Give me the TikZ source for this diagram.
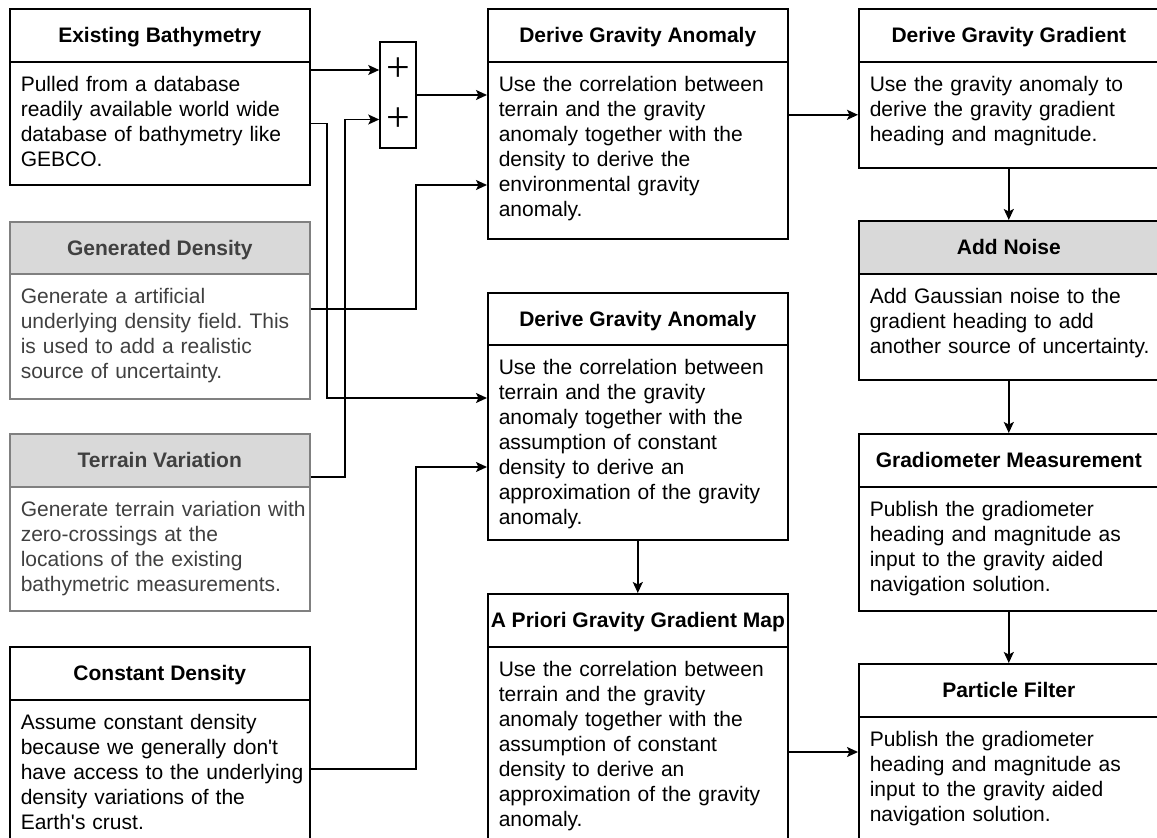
\documentclass[tikz,border=0pt]{standalone}
\usepackage{fontspec}
\setmainfont{Liberation Sans}[Ligatures=TeXOff]
\newfontfamily\plusfont{Liberation Serif}
\usetikzlibrary{arrows.meta}

\definecolor{mutedline}{HTML}{808080}
\definecolor{mutedtext}{HTML}{404040}
\definecolor{headfill}{HTML}{D9D9D9}

\newcommand{\bodyfont}{\fontsize{21}{25}\selectfont}
\newcommand{\headfont}{\bfseries\fontsize{21}{25}\selectfont}
\frenchspacing

% A stage: bold title band on top of a text panel.
% #1 name, #2 look (plain/muted/noise), #3 x, #4 top, #5 divider, #6 bottom, #7 title, #8 text
\newcommand{\stagebox}[8]{%
  \pgfmathsetmacro\stgHeadH{#5-#4}%
  \pgfmathsetmacro\stgDepth{#6-#5-29.7}%
  \node[stagehead, #2head, minimum height=\stgHeadH pt] (#1h) at (#3,#4) {#7};
  \node[stagebody, #2body, text depth=\stgDepth pt] (#1) at (#3,#5) {\leftskip=11pt #8\par};
}

\begin{document}
\begin{tikzpicture}[x=1pt, y=-1pt,
  stagehead/.style={draw, line width=1.6pt, anchor=north west, minimum width=300pt,
    inner sep=0pt, text height=15pt, text depth=0pt, font=\headfont},
  stagebody/.style={draw, line width=1.6pt, anchor=north west, text width=300pt,
    inner sep=0pt, align=left, text height=29.7pt, font=\bodyfont},
  plainhead/.style={},
  plainbody/.style={},
  mutedhead/.style={draw=mutedline, fill=headfill, text=mutedtext},
  mutedbody/.style={draw=mutedline, text=mutedtext},
  noisehead/.style={fill=headfill},
  noisebody/.style={},
  sumbox/.style={draw, line width=1.6pt, minimum width=36pt, minimum height=106pt, inner sep=0pt},
  plussign/.style={inner sep=0pt, font=\plusfont\fontsize{42}{42}\selectfont},
  conn/.style={line width=1.6pt, -{Stealth[length=11pt, width=10pt, inset=2.5pt]}}
]
\useasboundingbox (0,0) rectangle (1157,838);
\clip (0,0) rectangle (1157,838);

% left column: inputs
\stagebox{eb}{plain}{9}{8}{61}{184}{Existing Bathymetry}
  {Pulled from a database\\readily available world wide\\database of bathymetry like\\GEBCO.}
\stagebox{gd}{muted}{9}{221}{273}{398}{Generated Density}
  {Generate a artificial\\underlying density field. This\\is used to add a realistic\\source of uncertainty.}
\stagebox{tv}{muted}{9}{433}{486}{610}{Terrain Variation}
  {Generate terrain variation with\\zero-crossings at the\\locations of the existing\\bathymetric measurements.}
\stagebox{cd}{plain}{9}{646}{699}{870}{Constant Density}
  {Assume constant density\\because we generally don't\\have access to the underlying\\density variations of the\\Earth's crust.}

% middle column
\stagebox{ga1}{plain}{487}{8}{61}{238}{Derive Gravity Anomaly}
  {Use the correlation between\\terrain and the gravity\\anomaly together with the\\density to derive the\\environmental gravity\\anomaly.}
\stagebox{ga2}{plain}{487}{292}{344}{539}{Derive Gravity Anomaly}
  {Use the correlation between\\terrain and the gravity\\anomaly together with the\\assumption of constant\\density to derive an\\approximation of the gravity\\anomaly.}
\stagebox{map}{plain}{487}{593}{646}{870}{A Priori Gravity Gradient Map}
  {Use the correlation between\\terrain and the gravity\\anomaly together with the\\assumption of constant\\density to derive an\\approximation of the gravity\\anomaly.}

% right column
\stagebox{gg}{plain}{858}{8}{61}{167}{Derive Gravity Gradient}
  {Use the gravity anomaly to\\derive the gravity gradient\\heading and magnitude.}
\stagebox{noise}{noise}{858}{220}{273}{379}{Add Noise}
  {Add Gaussian noise to the\\gradient heading to add\\another source of uncertainty.}
\stagebox{meas}{plain}{858}{433}{486}{610}{Gradiometer Measurement}
  {Publish the gradiometer\\heading and magnitude as\\input to the gravity aided\\navigation solution.}
\stagebox{pf}{plain}{858}{663}{716}{870}{Particle Filter}
  {Publish the gradiometer\\heading and magnitude as\\input to the gravity aided\\navigation solution.}

% summing junction
\node[sumbox] (sum) at (398,95) {};
\node[plussign] (p1) at (398,70) {+};
\node[plussign] (p2) at (398,119.5) {+};

% bend points of the routed connectors
\coordinate (bend-eb) at (327,398);
\coordinate (bend-tv) at (345,477);
\coordinate (bend-gd) at (416,309);
\coordinate (bend-gd2) at (416,185);
\coordinate (bend-cd) at (416,769);
\coordinate (bend-cd2) at (416,467);
\coordinate (lvl-map) at (0,752);

% connectors
\draw[conn] (eb.east |- p1) -- (sum.west |- p1);
\draw[conn] (tvh.east |- bend-tv) -- (bend-tv) -- (bend-tv |- p2) -- (sum.west |- p2);
\draw[conn] (eb.east) -| (bend-eb) -- (bend-eb -| ga2.west);
\draw[conn] (gd.east |- bend-gd) -- (bend-gd) -- (bend-gd2) -- (bend-gd2 -| ga1.west);
\draw[conn] (sum.east) -- (sum.east -| ga1.west);
\draw[conn] (cd.east |- bend-cd) -- (bend-cd) -- (bend-cd2) -- (bend-cd2 -| ga2.west);
\draw[conn] (ga1.east |- gg.west) -- (gg.west);
\draw[conn] (ga2.south) -- (maph.north);
\draw[conn] (map.east |- lvl-map) -- (pf.west |- lvl-map);
\draw[conn] (gg.south) -- (noiseh.north);
\draw[conn] (noise.south) -- (meash.north);
\draw[conn] (meas.south) -- (pfh.north);
\end{tikzpicture}
\end{document}
